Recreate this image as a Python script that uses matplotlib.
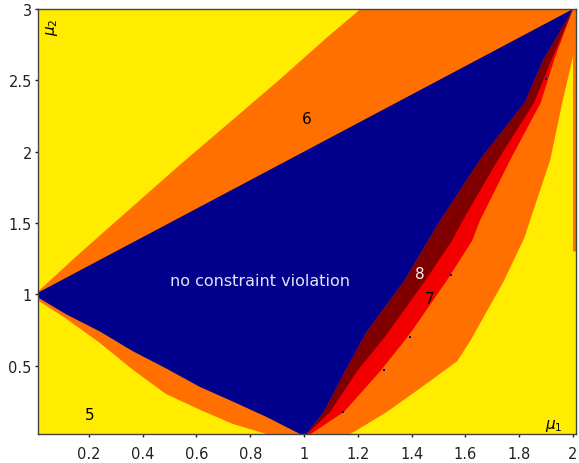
import numpy as np
import matplotlib
matplotlib.use('Agg')
import matplotlib.pyplot as plt

# boundary curves (mu1, mu2)
upper_yellow_x = [0.0, 0.156, 0.342, 0.528, 0.714, 0.90, 1.085, 1.21]
upper_yellow_y = [1.0, 1.27, 1.58, 1.89, 2.19, 2.49, 2.80, 3.0]

lower_yellow_x = [0.0, 0.115, 0.24, 0.364, 0.487, 0.613, 0.736, 0.86, 0.93]
lower_yellow_y = [0.97, 0.83, 0.66, 0.47, 0.30, 0.19, 0.09, 0.02, 0.0]

right_yellow_x = [1.15, 1.186, 1.309, 1.431, 1.569, 1.617, 1.743, 1.82, 1.84, 1.915, 1.96, 2.0]
right_yellow_y = [0.0, 0.035, 0.176, 0.34, 0.53, 0.67, 1.094, 1.40, 1.517, 1.94, 2.343, 2.67]

red_orange_x = [1.01, 1.037, 1.149, 1.283, 1.372, 1.40, 1.53, 1.625, 1.654, 1.766, 1.88, 1.93, 2.0]
red_orange_y = [0.0, 0.035, 0.176, 0.46, 0.67, 0.74, 1.094, 1.376, 1.517, 1.94, 2.343, 2.646, 3.0]

darkred_red_x = [1.0, 1.097, 1.197, 1.30, 1.45, 1.55, 1.59, 1.72, 1.855, 1.92, 2.0]
darkred_red_y = [0.0, 0.176, 0.46, 0.70, 1.094, 1.376, 1.517, 1.94, 2.343, 2.646, 3.0]

blue_right_x = [1.0, 1.074, 1.152, 1.234, 1.372, 1.506, 1.66, 1.82, 1.89, 2.0]
blue_right_y = [0.0, 0.176, 0.46, 0.74, 1.094, 1.517, 1.96, 2.343, 2.646, 3.0]

blue_upper_x = [0.0, 2.0]
blue_upper_y = [1.0, 3.0]

blue_lower_x = [0.0, 0.115, 0.24, 0.364, 0.487, 0.613, 0.736, 0.86, 0.985, 1.0]
blue_lower_y = [0.99, 0.86, 0.74, 0.60, 0.48, 0.35, 0.247, 0.14, 0.02, 0.0]

# stray points of the grid along the red/orange edge
dots_x = [1.145, 1.297, 1.394, 1.546, 1.90]
dots_y = [0.176, 0.466, 0.70, 1.136, 2.51]

labels = ['5', '6', '7', '8', 'no constraint violation']
label_x = [0.204, 1.011, 1.468, 1.43, 0.838]
label_y = [0.155, 2.23, 0.967, 1.143, 1.094]
label_col = ['black', 'black', 'black', '#f0f0f0', '#e4e4f4']

xticks = [0.2, 0.4, 0.6, 0.8, 1.0, 1.2, 1.4, 1.6, 1.8, 2.0]
xticklabels = ['0.2', '0.4', '0.6', '0.8', '1', '1.2', '1.4', '1.6', '1.8', '2']
yticks = [0.5, 1.0, 1.5, 2.0, 2.5, 3.0]
yticklabels = ['0.5', '1', '1.5', '2', '2.5', '3']

YELLOW = '#ffec00'
ORANGE = '#ff7000'
RED = '#f20000'
DARKRED = '#800000'
NAVY = '#00008c'

fig = plt.figure(figsize=(5.79, 4.64), dpi=100)
ax = fig.add_axes([38/579, 29/464, 538/579, 425/464])
ax.set_facecolor(YELLOW)

# orange: everything that is not yellow
ox = np.concatenate([upper_yellow_x, [2.02, 2.02, 2.0], right_yellow_x[::-1], lower_yellow_x[::-1]])
oy = np.concatenate([upper_yellow_y, [3.0, 1.3, 1.3], right_yellow_y[::-1], lower_yellow_y[::-1]])
ax.fill(ox, oy, color=ORANGE, lw=0)

rx = np.concatenate([red_orange_x, blue_right_x[::-1]])
ry = np.concatenate([red_orange_y, blue_right_y[::-1]])
ax.fill(rx, ry, color=RED, lw=0)

dx = np.concatenate([darkred_red_x, blue_right_x[::-1]])
dy = np.concatenate([darkred_red_y, blue_right_y[::-1]])
ax.fill(dx, dy, color=DARKRED, lw=0)

bx = np.concatenate([blue_upper_x, blue_right_x[::-1], blue_lower_x[::-1]])
by = np.concatenate([blue_upper_y, blue_right_y[::-1], blue_lower_y[::-1]])
ax.fill(bx, by, color=NAVY, lw=0)

ax.plot(dots_x, dots_y, ls='none', marker='s', ms=1.6, color=NAVY, mew=0)

for t, x, y, c in zip(labels, label_x, label_y, label_col):
    ax.text(x, y, t, color=c, fontsize=11.5 if len(t) > 1 else 11, ha='center', va='center')

ax.text(0.063, 2.88, r'$\mu_2$', rotation=90, fontsize=11, ha='center', va='center')
ax.text(1.93, 0.085, r'$\mu_1$', fontsize=11, ha='center', va='center')

ax.set_xlim(0.011, 2.011)
ax.set_ylim(0.02, 3.0)
ax.set_xticks(xticks)
ax.set_xticklabels(xticklabels)
ax.set_yticks(yticks)
ax.set_yticklabels(yticklabels)
ax.tick_params(axis='both', direction='out', length=2.5, width=1, labelsize=10.5, colors='#222222')
ax.tick_params(axis='x', pad=6)
ax.tick_params(axis='y', pad=2)
for s in ax.spines.values():
    s.set_color('#444444')
    s.set_linewidth(1)

fig.savefig('out.png', dpi=100)
